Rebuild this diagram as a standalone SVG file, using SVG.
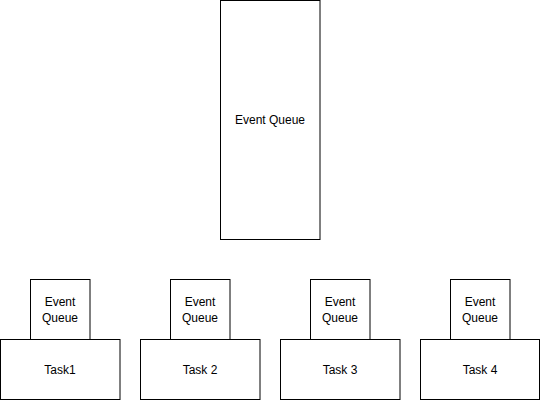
<svg xmlns="http://www.w3.org/2000/svg" width="540" height="400" viewBox="0 0 540 400">
<style>
rect{fill:#fff;stroke:#000;stroke-width:1}
text{font-family:"Liberation Sans",Arial,sans-serif;font-size:12px;fill:#000;text-anchor:middle}
</style>
<rect x="0" y="0" width="540" height="400" style="stroke:none;fill:#fff"/>
<g id="connectors"></g>
<g id="main-queue"><rect x="220.5" y="0.5" width="99.5" height="239"/><text x="270" y="124">Event Queue</text></g>
<g id="task1"><rect x="0.5" y="339.5" width="119.5" height="60"/><text x="60" y="374">Task1</text></g>
<g id="queue1"><rect x="30.5" y="279.5" width="59.5" height="60"/><text x="60" y="306">Event</text><text x="60" y="322">Queue</text></g>
<g id="task2"><rect x="140.5" y="339.5" width="119.5" height="60"/><text x="200" y="374">Task 2</text></g>
<g id="queue2"><rect x="170.5" y="279.5" width="59.5" height="60"/><text x="200" y="306">Event</text><text x="200" y="322">Queue</text></g>
<g id="task3"><rect x="280.5" y="339.5" width="119.5" height="60"/><text x="340" y="374">Task 3</text></g>
<g id="queue3"><rect x="310.5" y="279.5" width="59.5" height="60"/><text x="340" y="306">Event</text><text x="340" y="322">Queue</text></g>
<g id="task4"><rect x="420.5" y="339.5" width="119" height="60"/><text x="480" y="374">Task 4</text></g>
<g id="queue4"><rect x="450.5" y="279.5" width="59.5" height="60"/><text x="480" y="306">Event</text><text x="480" y="322">Queue</text></g>
</svg>
